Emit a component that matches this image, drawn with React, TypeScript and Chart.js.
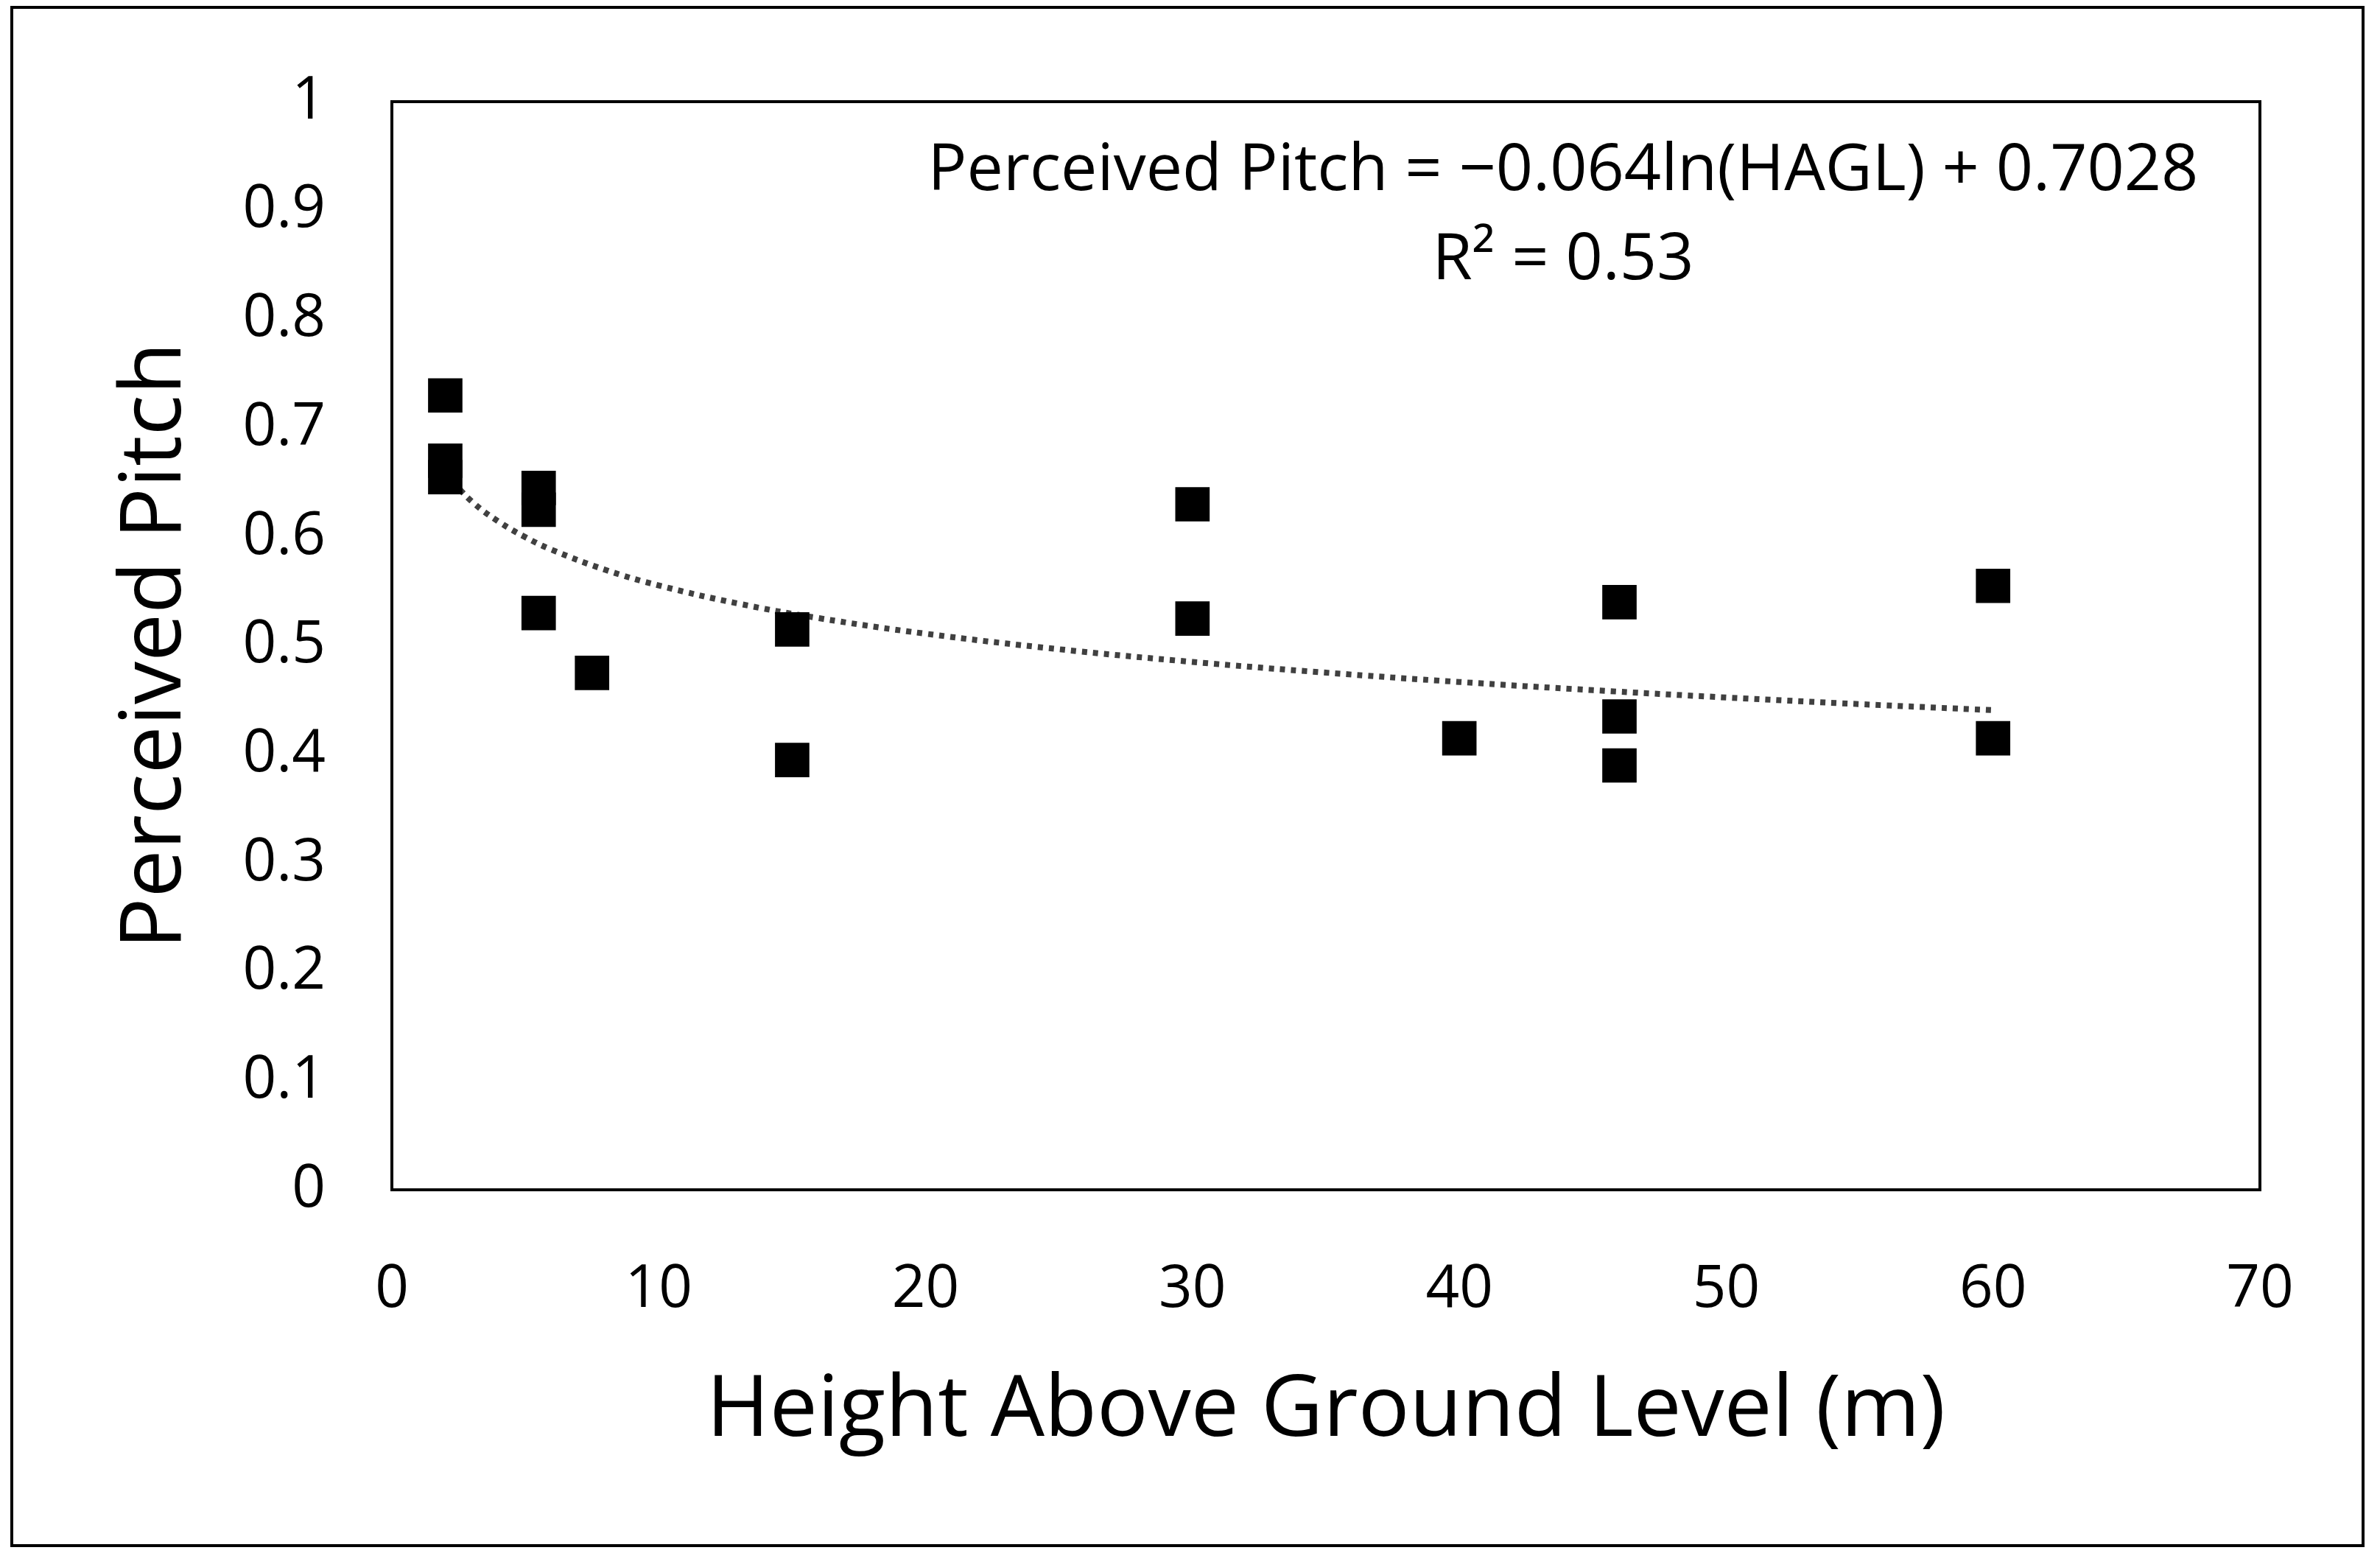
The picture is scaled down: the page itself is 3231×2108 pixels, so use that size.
import React, { useEffect, useRef } from "react";
import { Chart, registerables } from "chart.js";
Chart.register(...registerables);

const heights = [2, 2, 2, 5.5, 5.5, 5.5, 7.5, 15, 15, 30, 30, 40, 46, 46, 46, 60, 60];
const pitches = [0.73, 0.67, 0.655, 0.645, 0.625, 0.53, 0.475, 0.515, 0.395, 0.63, 0.525, 0.415, 0.54, 0.435, 0.39, 0.555, 0.415];
const trendSlope = -0.064;
const trendIntercept = 0.7028;
const trendX = [2, 3, 4, 5, 6, 8, 10, 13, 16, 20, 25, 30, 35, 40, 45, 50, 55, 60];
const FONT = "'Open Sans', 'Liberation Sans', sans-serif";

export default function App() {
  const ref = useRef<HTMLCanvasElement>(null);
  useEffect(() => {
    const W = 3231, H = 2108;
    const L = 532, R = 3068, T = 90, B = 1615;
    const deco = {
      id: "deco",
      afterDraw(c: any) {
        const ctx = c.ctx;
        ctx.save();
        ctx.strokeStyle = "#000";
        ctx.lineWidth = 4;
        ctx.strokeRect(16, 10, 3192, 2088);
        const a = c.chartArea;
        ctx.strokeRect(a.left, a.top, a.right - a.left, a.bottom - a.top);
        ctx.fillStyle = "#000";
        ctx.textAlign = "center";
        ctx.textBaseline = "middle";
        ctx.font = `88px ${FONT}`;
        ctx.fillText("Perceived Pitch = \u22120.064ln(HAGL) + 0.7028", 2122, 233);
        ctx.fillText("R\u00B2 = 0.53", 2122, 354);
        ctx.font = `116px ${FONT}`;
        ctx.fillText("Height Above Ground Level (m)", (a.left + a.right) / 2, 1916);
        ctx.translate(212, (a.top + a.bottom) / 2);
        ctx.rotate(-Math.PI / 2);
        ctx.fillText("Perceived Pitch", 0, 0);
        ctx.restore();
      },
    };
    const chart = new Chart(ref.current!, {
      type: "scatter",
      data: {
        datasets: [
          {
            data: heights.map((x, i) => ({ x, y: pitches[i] })),
            pointStyle: "rect",
            pointRadius: 33,
            backgroundColor: "#000",
            borderColor: "#000",
            borderWidth: 0,
          },
          {
            type: "line",
            data: trendX.map((x) => ({ x, y: trendSlope * Math.log(x) + trendIntercept })),
            borderColor: "#404040",
            borderWidth: 8,
            borderDash: [7, 8],
            pointRadius: 0,
            tension: 0.4,
          } as any,
        ],
      },
      options: {
        animation: false,
        responsive: false,
        devicePixelRatio: 1,
        layout: { padding: { left: 0, top: T, right: W - R, bottom: 0 } },
        plugins: { legend: { display: false }, tooltip: { enabled: false } },
        scales: {
          x: {
            type: "linear", min: 0, max: 70,
            grid: { display: false, drawTicks: false },
            border: { display: false },
            ticks: { stepSize: 10, padding: 88, color: "#000", font: { size: 80, family: FONT } },
            afterFit: (s: any) => { s.height = H - B; },
          },
          y: {
            min: 0, max: 1,
            grid: { display: false, drawTicks: false },
            border: { display: false },
            ticks: {
              stepSize: 0.1, padding: 90, color: "#000", font: { size: 80, family: FONT },
              callback: (v: any) => String(Math.round(Number(v) * 10) / 10),
            },
            afterFit: (s: any) => { s.width = L; },
          },
        },
      },
      plugins: [deco],
    });
    return () => chart.destroy();
  }, []);
  return (
    <div style={{ position: "fixed", left: 0, top: 0, width: 3231, height: 2108, background: "#fff" }}>
      <canvas ref={ref} width={3231} height={2108} />
    </div>
  );
}
